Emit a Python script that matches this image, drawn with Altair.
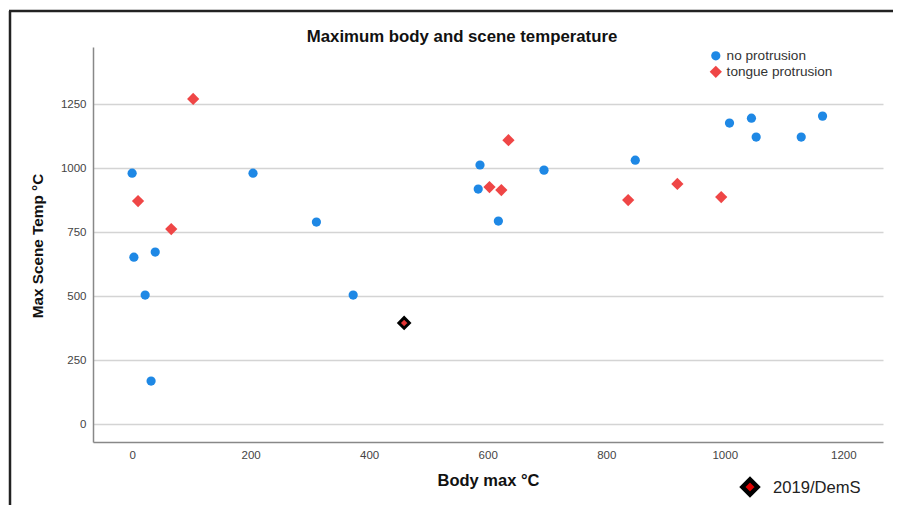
import altair as alt
import pandas as pd

# ---- data ----
no_protrusion_x = [0, 3, 22, 32, 39, 204, 311, 373, 584, 587, 618, 695, 849, 1008, 1045, 1053, 1129, 1165]
no_protrusion_y = [980, 652, 504, 168, 672, 980, 789, 504, 918, 1012, 793, 992, 1031, 1176, 1195, 1121, 1121, 1203]
tongue_x = [10, 66, 103, 603, 623, 635, 837, 920, 994]
tongue_y = [871, 762, 1270, 926, 914, 1109, 875, 938, 887]
dems_x = [459]
dems_y = [395]
categories = ["no protrusion", "tongue protrusion"]
x_ticks = [0, 200, 400, 600, 800, 1000, 1200]
y_ticks = [0, 250, 500, 750, 1000, 1250]
title_text = ["Maximum body and scene temperature"]

df = pd.DataFrame({
    "x": no_protrusion_x + tongue_x,
    "y": no_protrusion_y + tongue_y,
    "group": [categories[0]] * len(no_protrusion_x) + [categories[1]] * len(tongue_x),
})
df_dems = pd.DataFrame({"x": dems_x, "y": dems_y, "label": ["2019/DemS"]})
df_title = pd.DataFrame({"t": title_text})

FONT = "Liberation Sans"
W, H = 790, 395

xscale = alt.Scale(domain=[-66, 1267], nice=False, zero=False)
yscale = alt.Scale(domain=[-70, 1473], nice=False, zero=False)

xaxis = alt.Axis(values=x_ticks, format="d", grid=False, ticks=False, domain=True, domainColor="#888888",
                 domainWidth=1.5, labelFontSize=11.5, labelColor="#444444", labelPadding=7,
                 labelFont=FONT, title="Body max °C", titleFont=FONT, titleFontSize=16.5,
                 titleFontWeight="bold", titleColor="#111111", titleY=30, titleBaseline="top")
yaxis = alt.Axis(values=y_ticks, format="d", grid=True, gridColor="#d4d4d4", gridWidth=1.5, ticks=False,
                 domain=True, domainColor="#888888", domainWidth=1.5, labelFontSize=11.5,
                 labelColor="#444444", labelPadding=7, labelFont=FONT,
                 title="Max Scene Temp °C", titleFont=FONT, titleFontSize=15.3,
                 titleFontWeight="bold", titleColor="#111111", titleX=-48, titleY=H / 2 + 1,
                 titleAngle=-90, titleBaseline="bottom", titleAlign="center")

points = alt.Chart(df).mark_point(filled=True, opacity=1, strokeWidth=0).encode(
    x=alt.X("x:Q", scale=xscale, axis=xaxis),
    y=alt.Y("y:Q", scale=yscale, axis=yaxis),
    color=alt.Color("group:N", scale=alt.Scale(domain=categories, range=["#1e88e5", "#ef4646"]),
                    legend=alt.Legend(title=None, orient="none", legendX=616, legendY=2,
                                      labelFont=FONT, labelFontSize=13.6, labelColor="#333333",
                                      symbolStrokeWidth=0, rowPadding=1, padding=0,
                                      labelOffset=4, symbolSize=95)),
    shape=alt.Shape("group:N", scale=alt.Scale(domain=categories, range=["circle", "diamond"]),
                    legend=None),
    size=alt.Size("group:N", scale=alt.Scale(domain=categories, range=[85, 150]), legend=None),
)

dems_pt = alt.Chart(df_dems).mark_point(shape="diamond", filled=True, fill="#e53535",
                                         stroke="#000000", strokeWidth=3, opacity=1, size=110).encode(
    x=alt.X("x:Q", scale=xscale),
    y=alt.Y("y:Q", scale=yscale),
)

# chart title (placed as in the reference, slightly left of centre)
title = alt.Chart(df_title).mark_text(align="center", baseline="middle", font=FONT, fontSize=16.8,
                                      fontWeight="bold", color="#111111").encode(
    x=alt.value(369), y=alt.value(-10), text="t:N"
)

# bottom-right key for the highlighted case
dems_key = alt.Chart(df_dems).mark_point(shape="diamond", filled=True, fill="#e00000",
                                          stroke="#000000", strokeWidth=4.5, opacity=1, size=230).encode(
    x=alt.value(657), y=alt.value(440)
)
dems_key_text = alt.Chart(df_dems).mark_text(align="left", baseline="middle", font=FONT,
                                              fontSize=16.6, color="#222222").encode(
    x=alt.value(680), y=alt.value(441), text="label:N"
)

# outer frame (left and top edges)
frame_left = alt.Chart(df_dems).mark_rule(color="#222222", strokeWidth=2.5).encode(
    x=alt.value(-83), y=alt.value(-36), y2=alt.value(480)
)
frame_top = alt.Chart(df_dems).mark_rule(color="#222222", strokeWidth=2.5).encode(
    x=alt.value(-84), x2=alt.value(820), y=alt.value(-36)
)

chart = alt.layer(frame_left, frame_top, points, dems_pt, title, dems_key, dems_key_text).properties(
    width=W, height=H,
    autosize=alt.AutoSizeParams(type="none"),
    padding={"left": 85, "top": 39, "right": 10, "bottom": 63},
    background="white",
).configure_view(stroke=None)

chart.save("out.html", embed_options={"renderer": "svg", "actions": False})
